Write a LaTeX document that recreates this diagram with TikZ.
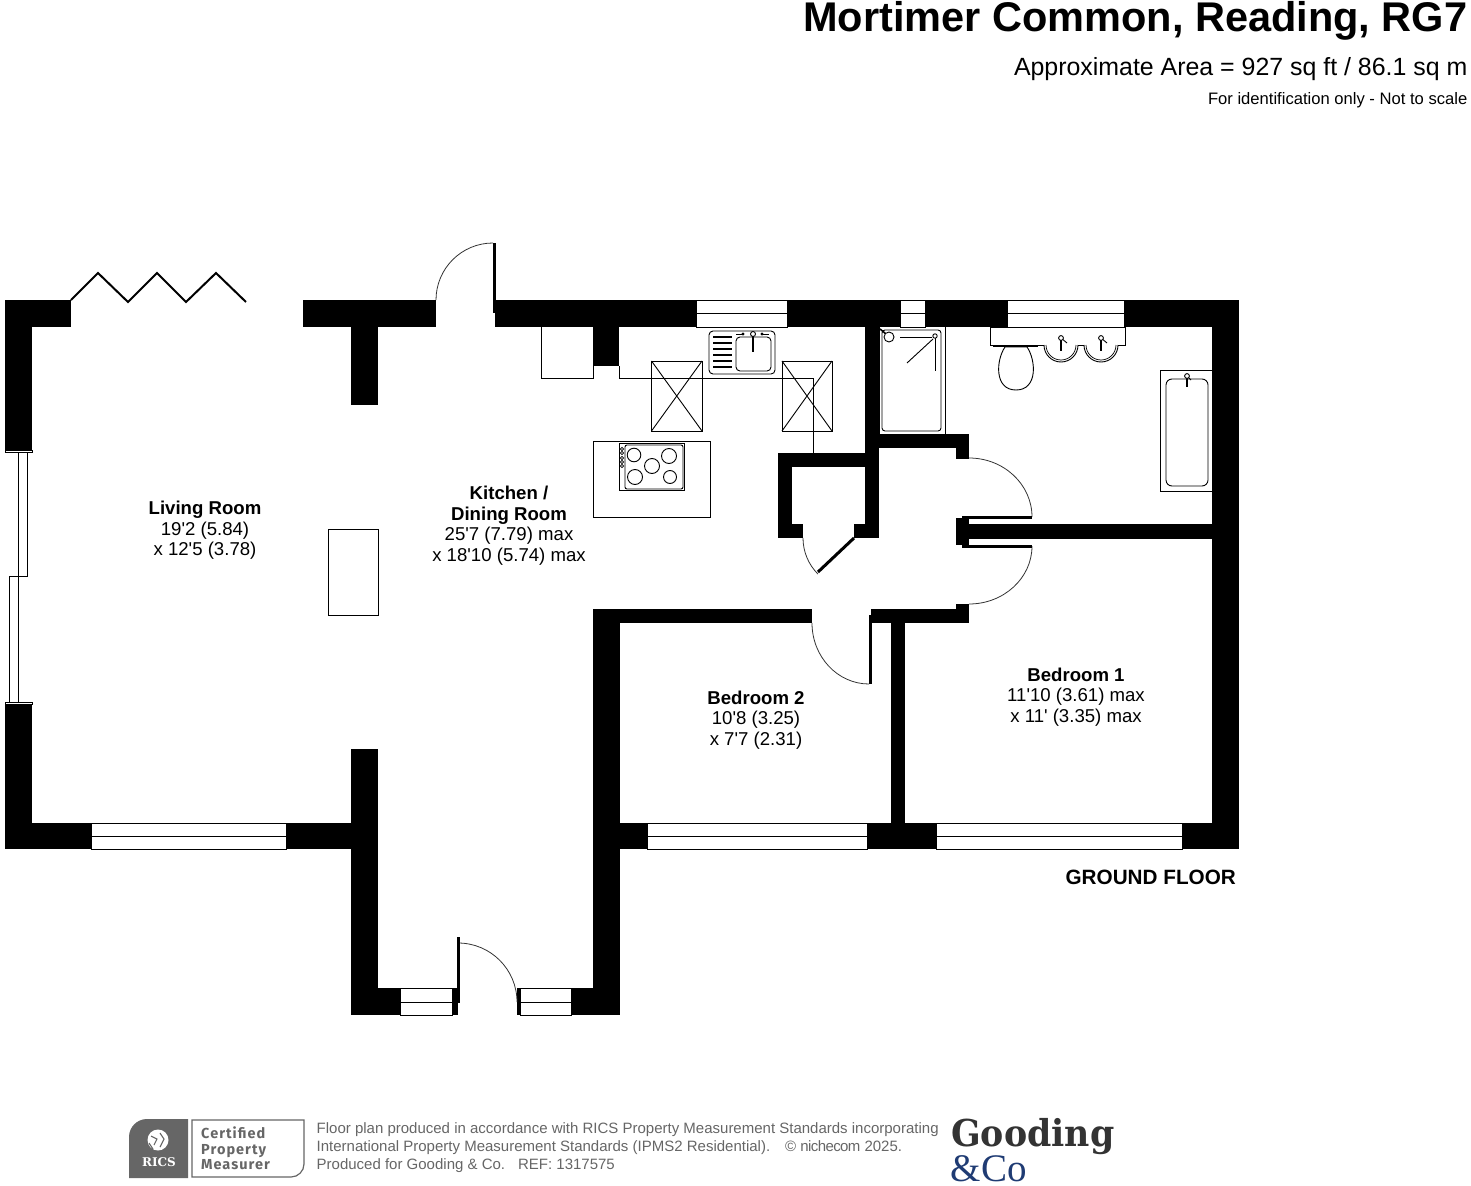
\documentclass[tikz,border=0pt]{standalone}
\usepackage{fontspec}
\newfontfamily\plansans{Liberation Sans}
\newfontfamily\planserif{Liberation Serif}
\newfontfamily\slabfont[FakeStretch=0.94]{DejaVu Serif}
\newfontfamily\ricsfont{DejaVu Serif}
\newfontfamily\badgefont[LetterSpace=7]{Fira Sans}
\definecolor{footgray}{HTML}{666666}
\definecolor{logonavy}{HTML}{1F3B73}
\definecolor{logoink}{HTML}{333333}
\tikzset{
	wall/.style={fill=black},
	pane/.style={draw=black, line width=0.8pt, fill=white},
	fitting/.style={draw=black, line width=0.9pt},
	doorleaf/.style={draw=black, line width=3pt},
	swing/.style={draw=black!80, line width=0.8pt},
	roomtext/.style={font=\plansans\fontsize{18.6}{20.6}\selectfont, align=center},
	foottext/.style={font=\plansans\fontsize{15}{18}\selectfont, text=footgray, anchor=base west, inner sep=0pt}
}
\begin{document}
\begin{tikzpicture}[x=1pt,y=-1pt]
	\useasboundingbox (0,0) rectangle (1471,1185);
	% heading
	\node[anchor=base east, inner sep=0pt] (title) at (1467.5,31.5) {\plansans\bfseries\fontsize{41.5}{44}\selectfont Mortimer Common, Reading, RG7};
	\node[anchor=base east, inner sep=0pt] (area) at (1467.5,76) {\plansans\fontsize{24.9}{28}\selectfont Approximate Area = 927 sq ft / 86.1 sq m};
	\node[anchor=base east, inner sep=0pt] (note) at (1467.5,105) {\plansans\fontsize{16.6}{19}\selectfont For identification only - Not to scale};
	% outer walls, top
	\fill[wall] (5,300) rectangle (71,327);
	\fill[wall] (5,300) rectangle (32,450);
	\fill[wall] (303,300) rectangle (436,327);
	\fill[wall] (351,327) rectangle (378,405);
	\fill[wall] (495,300) rectangle (696.5,327);
	\fill[wall] (787,300) rectangle (900,327);
	\fill[wall] (925,300) rectangle (1007.5,327);
	\fill[wall] (1124,300) rectangle (1239,327);
	\fill[wall] (1212,300) rectangle (1239,849);
	\fill[wall] (593,327) rectangle (619,366);
	% outer walls, bottom
	\fill[wall] (5,704) rectangle (32,849);
	\fill[wall] (5,823) rectangle (91.5,849);
	\fill[wall] (286,823) rectangle (378,849);
	\fill[wall] (351,749) rectangle (378,1015);
	\fill[wall] (351,988) rectangle (400.5,1015);
	\fill[wall] (452,988) rectangle (458,1015);
	\fill[wall] (517,988) rectangle (520,1015);
	\fill[wall] (571,988) rectangle (620,1015);
	\fill[wall] (593,609) rectangle (620,1015);
	\fill[wall] (593,823) rectangle (647.5,849);
	\fill[wall] (867,823) rectangle (936.5,849);
	\fill[wall] (1182,823) rectangle (1239,849);
	% inner walls
	\fill[wall] (593,609) rectangle (812,623);
	\fill[wall] (871,609) rectangle (969,623);
	\fill[wall] (956,604) rectangle (969,609);
	\fill[wall] (891,623) rectangle (905,849);
	\fill[wall] (865,327) rectangle (879,538);
	\fill[wall] (865,434) rectangle (969,448);
	\fill[wall] (956,448) rectangle (969,459);
	\fill[wall] (778,453) rectangle (865,467);
	\fill[wall] (778,453) rectangle (792,538);
	\fill[wall] (792,524) rectangle (803,538);
	\fill[wall] (854,524) rectangle (865,538);
	\fill[wall] (969,524) rectangle (1212,539);
	\fill[wall] (956,518) rectangle (969,545);
	% windows
	\draw[pane] (696.5,300) rectangle (787,327);
	\draw[fitting] (696.5,313) -- (787,313);
	\draw[pane] (900,300) rectangle (925,327);
	\draw[fitting] (900,313) -- (925,313);
	\draw[pane] (1007.5,300) rectangle (1124,327);
	\draw[fitting] (1007.5,313) -- (1124,313);
	\draw[pane] (91.5,823) rectangle (286,849);
	\draw[fitting] (91.5,836) -- (286,836);
	\draw[pane] (647.5,823) rectangle (867,849);
	\draw[fitting] (647.5,836) -- (867,836);
	\draw[pane] (936.5,823) rectangle (1182,849);
	\draw[fitting] (936.5,836) -- (1182,836);
	\draw[pane] (400.5,988) rectangle (452,1015);
	\draw[fitting] (400.5,1002) -- (452,1002);
	\draw[pane] (520,988) rectangle (571,1015);
	\draw[fitting] (520,1002) -- (571,1002);
	% sliding doors on the left
	\draw[pane] (5,450) rectangle (32,452.5);
	\draw[pane] (5,702) rectangle (32,704);
	\draw[fitting] (18,452) -- (18,702);
	\draw[fitting] (27,452) -- (27,576) -- (9,576) -- (9,702);
	% folding doors
	\draw[draw=black, line width=2pt] (71,300) -- (98,273) -- (128,302) -- (157,273) -- (186,302) -- (216,273) -- (246,302);
	% doors
	\draw[swing] (436,300) arc[start angle=180, end angle=270, radius=57];
	\draw[doorleaf] (494.5,243) -- (494.5,313);
	\draw[swing] (517,1002) arc[start angle=0, end angle=-90, radius=59];
	\draw[doorleaf] (458,937) -- (458,1003);
	\draw[swing] (812,623) arc[start angle=180, end angle=90, x radius=57, y radius=61];
	\draw[doorleaf, line width=2.4pt] (870.5,615) -- (870.5,684);
	\draw[swing] (803,538) arc[start angle=180, end angle=135, radius=51];
	\draw[doorleaf] (854,538) -- (818,572);
	\draw[swing] (969,458) arc[start angle=-90, end angle=0, x radius=63, y radius=59];
	\draw[doorleaf] (962,517.5) -- (1032,517.5);
	\draw[swing] (969,604) arc[start angle=90, end angle=0, x radius=63, y radius=58];
	\draw[doorleaf] (962,546.5) -- (1032,546.5);
	% kitchen units
	\draw[fitting] (541,327) -- (541,378) -- (593,378) -- (593,366);
	\draw[fitting] (619,366) -- (619,378) -- (813,378) -- (813,453);
	\draw[fitting] (651.5,361) rectangle (702,431);
	\draw[fitting] (651.5,361) -- (702,431);
	\draw[fitting] (702,361) -- (651.5,431);
	\draw[fitting] (782,361) rectangle (832,431);
	\draw[fitting] (782,361) -- (832,431);
	\draw[fitting] (832,361) -- (782,431);
	% sink
	\draw[fitting, fill=white, rounded corners=4pt] (709,331) rectangle (775,374);
	\draw[fitting, rounded corners=4pt] (736,337) rectangle (771,371);
	\draw[fitting, line width=1.2pt] (713,337) -- (732,337);
	\draw[fitting, line width=1.2pt] (713,343) -- (732,343);
	\draw[fitting, line width=1.2pt] (713,349) -- (732,349);
	\draw[fitting, line width=1.2pt] (713,355) -- (732,355);
	\draw[fitting, line width=1.2pt] (713,361) -- (732,361);
	\draw[fitting, line width=1.2pt] (713,367) -- (732,367);
	\draw[fitting, line width=1.6pt] (753,336) -- (753,352);
	\draw[fitting, fill=white] (753,334) circle (2.5);
	\fill (743,334) circle (1.6);
	\fill (762,334) circle (1.6);
	\draw[fitting, line width=0.6pt] (736,334) -- (742,334);
	\draw[fitting, line width=0.6pt] (763,334) -- (769,334);
	% island and hob
	\draw[fitting] (593,441) rectangle (710,517);
	\draw[fitting] (619,443) rectangle (684,490);
	\draw[fitting, rounded corners=2pt] (625,445) rectangle (683,489);
	\draw[fitting] (634,455) circle (6.8);
	\draw[fitting] (669,456) circle (7.5);
	\draw[fitting] (652,466) circle (7.5);
	\draw[fitting] (635,477) circle (7.5);
	\draw[fitting] (670,477) circle (6.5);
	\draw[fitting, line width=0.7pt] (622,449) circle (1.6);
	\draw[fitting, line width=0.7pt] (622,453) circle (1.6);
	\draw[fitting, line width=0.7pt] (622,458) circle (1.6);
	\draw[fitting, line width=0.7pt] (622,462) circle (1.6);
	\draw[fitting, line width=0.7pt] (622,466) circle (1.6);
	% stand in the living room
	\draw[fitting, line width=0.7pt] (328,529) rectangle (378,615);
	% shower
	\draw[fitting] (879,327) -- (879,434) (945,327) -- (945,434);
	\draw[fitting, rounded corners=3pt] (882,330) rectangle (941,431);
	\draw[fitting, line width=1.6pt] (880,329) -- (886,334);
	\draw[fitting, fill=white] (889,337) circle (5);
	\draw[fitting] (900,337) -- (932,337);
	\draw[fitting] (933,339) -- (907,363);
	\draw[fitting] (935,337) -- (935,371);
	\draw[fitting, fill=white] (935,336) circle (2.2);
	% basins and toilet
	\draw[fitting] (990,327) rectangle (1125,345);
	\draw[fitting, line width=1.6pt] (993,346) -- (1038,346);
	\draw[fitting, fill=white] (1005,347) .. controls (996,360) and (994,390) .. (1016,390) .. controls (1038,390) and (1036,360) .. (1027,347) -- cycle;
	\draw[fitting, fill=white] (1044,345) arc[start angle=180, end angle=0, radius=17];
	\draw[fitting, fill=white] (1084,345) arc[start angle=180, end angle=0, radius=17];
	\draw[fitting, line width=0.7pt] (1046,345) arc[start angle=180, end angle=0, radius=15];
	\draw[fitting, line width=0.7pt] (1086,345) arc[start angle=180, end angle=0, radius=15];
	\draw[fitting, line width=1.8pt] (1061,339) -- (1061,351);
	\draw[fitting, line width=1.8pt] (1101,339) -- (1101,351);
	\draw[fitting] (1061,338) -- (1067,343);
	\draw[fitting] (1101,338) -- (1107,343);
	\draw[fitting, fill=white] (1061,338) circle (2.4);
	\draw[fitting, fill=white] (1101,338) circle (2.4);
	% bath
	\draw[fitting] (1212,370) -- (1160,370) -- (1160,491) -- (1212,491);
	\draw[fitting, rounded corners=6pt] (1166,379) rectangle (1208,486);
	\draw[fitting, line width=1.8pt] (1187,377) -- (1187,387);
	\draw[fitting] (1187,376) -- (1191,380);
	\draw[fitting, fill=white] (1187,376) circle (2.4);
	% room names
	\node[roomtext] (living) at (205,530.5) {\textbf{Living Room}\\19'2 (5.84)\\x 12'5 (3.78)};
	\node[roomtext] (kitchen) at (509,525.5) {\textbf{Kitchen /}\\\textbf{Dining Room}\\25'7 (7.79) max\\x 18'10 (5.74) max};
	\node[roomtext] (bedtwo) at (756,720) {\textbf{Bedroom 2}\\10'8 (3.25)\\x 7'7 (2.31)};
	\node[roomtext] (bedone) at (1076,697) {\textbf{Bedroom 1}\\11'10 (3.61) max\\x 11' (3.35) max};
	\node[anchor=base east, inner sep=0pt] (floor) at (1236,884) {\plansans\bfseries\fontsize{20.7}{22}\selectfont GROUND FLOOR};
	% badge
	\fill[footgray] (129,1178) -- (129,1137) arc[start angle=180, end angle=270, radius=18] -- (188,1119) -- (188,1178) -- cycle;
	\fill[white] (158,1140) circle (10.5);
	\draw[footgray, line width=1.1pt] (151,1136) -- (157,1139) -- (154,1145);
	\draw[footgray, line width=1.1pt] (160,1133) -- (164,1139) -- (160,1147);
	\draw[footgray, line width=1.1pt] (149,1143) -- (153,1149);
	\node[anchor=base, inner sep=0pt, text=white] (rics) at (159,1166) {\ricsfont\bfseries\fontsize{12}{14}\selectfont RICS};
	\draw[footgray, line width=1.2pt] (192,1120) -- (304,1120) -- (304,1164) arc[start angle=0, end angle=90, radius=13] -- (192,1177) -- cycle;
	\node[anchor=base west, inner sep=0pt, text=footgray] (certified) at (201,1138) {\badgefont\bfseries\fontsize{14.5}{15}\selectfont Certified};
	\node[anchor=base west, inner sep=0pt, text=footgray] (property) at (201,1154) {\badgefont\bfseries\fontsize{14.5}{15}\selectfont Property};
	\node[anchor=base west, inner sep=0pt, text=footgray] (measurer) at (201,1169) {\badgefont\bfseries\fontsize{14.5}{15}\selectfont Measurer};
	% footer
	\node[foottext] (footone) at (316.5,1133) {Floor plan produced in accordance with RICS Property Measurement Standards incorporating};
	\node[foottext] (foottwo) at (316.5,1151) {International Property Measurement Standards (IPMS2 Residential).\quad © {\addfontfeature{LetterSpace=-4}nichecom} 2025.};
	\node[foottext] (footthree) at (316.5,1169) {Produced for Gooding \& Co.\hspace{13pt}REF:\ 1317575};
	\node[anchor=base west, inner sep=0pt, text=logoink, text depth=0pt] (gooding) at (951,1146) {\slabfont\bfseries\fontsize{37}{40}\selectfont Gooding};
	\node[anchor=base west, inner sep=0pt, text=logonavy, text depth=0pt, text height=26pt] (andco) at (950.5,1181) {\planserif\fontsize{39}{44}\selectfont \&Co};
\end{tikzpicture}
\end{document}
